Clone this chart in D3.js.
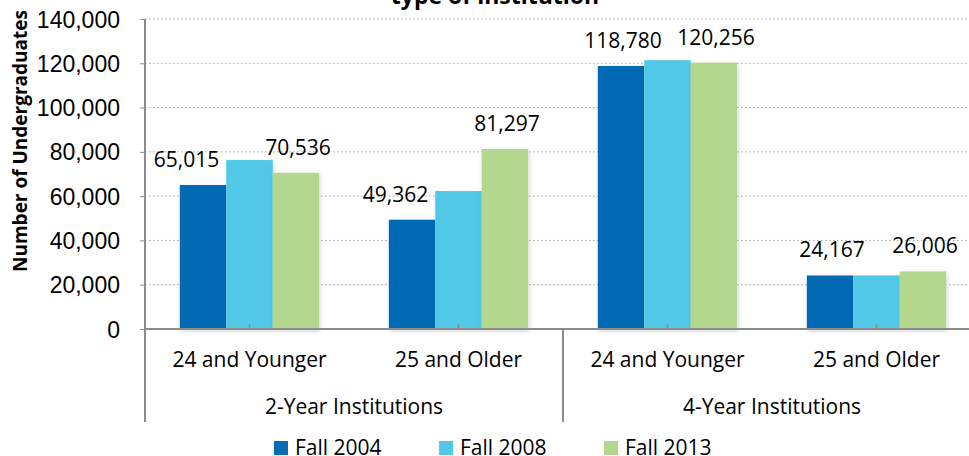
<!DOCTYPE html>
<html>
<head>
<meta charset="utf-8">
<script src="https://cdn.jsdelivr.net/npm/d3@7"></script>
<style>
  body { margin: 0; background: #fff; }
  svg { display: block; font-family: "Open Sans", sans-serif; }
</style>
</head>
<body>
<svg id="chart"></svg>
<script>
// categories: two levels on the x axis
const groups = ["2-Year Institutions", "4-Year Institutions"];
const ages = ["24 and Younger", "25 and Older"];
const series = ["Fall 2004", "Fall 2008", "Fall 2013"];
const colors = ["#056bb5", "#51c8e7", "#b3d78c"];

// values in category order: 2yr/24-, 2yr/25+, 4yr/24-, 4yr/25+
const fall2004 = [65015, 49362, 118780, 24167];
const fall2008 = [76300, 62300, 121400, 24200];  // not labelled
const fall2013 = [70536, 81297, 120256, 26006];
const labelled = ["Fall 2004", "Fall 2013"];

const yTicks = [0, 20000, 40000, 60000, 80000, 100000, 120000, 140000];

const width = 969, height = 456;
const marginLeft = 145, marginTop = 19, plotRight = 981, zeroY = 329;

const cats = groups.flatMap(g => ages.map(a => g + "|" + a));
const values = [fall2004, fall2008, fall2013];
const data = cats.flatMap((c, i) => series.map((s, j) => ({cat: c, series: s, value: values[j][i], k: j})));

const svg = d3.select("#chart")
    .attr("width", width)
    .attr("height", height)
    .attr("viewBox", [0, 0, width, height]);

const defs = svg.append("defs");
defs.append("filter").attr("id", "shadow")
    .attr("x", "-20%").attr("y", "-5%").attr("width", "140%").attr("height", "115%")
  .append("feDropShadow")
    .attr("dx", 1).attr("dy", 2).attr("stdDeviation", 2)
    .attr("flood-color", "#000").attr("flood-opacity", 0.18);

const x0 = d3.scaleBand(cats, [marginLeft, plotRight]);
const x1 = d3.scaleBand(series, [0, x0.bandwidth()]).paddingOuter(0.75);
const y = d3.scaleLinear([0, 140000], [zeroY, marginTop]);
const color = d3.scaleOrdinal(series, colors);
const fmt = d3.format(",");

// gridlines
svg.append("g")
   .selectAll("line")
   .data(yTicks.slice(1))
   .join("line")
   .attr("x1", marginLeft).attr("x2", width)
   .attr("y1", d => y(d)).attr("y2", d => y(d))
   .attr("stroke", "#a6a6a6")
   .attr("stroke-dasharray", "1.5,2.5");

// y axis
const yAxis = svg.append("g")
   .attr("transform", `translate(${marginLeft},0)`)
   .call(d3.axisLeft(y).tickValues(yTicks).tickFormat(fmt).tickSize(5).tickPadding(20));
yAxis.select(".domain").remove();
yAxis.selectAll(".tick line").attr("stroke", "#8c8c8c");
yAxis.selectAll("text").attr("font-size", 23).attr("fill", "#000").attr("dy", "0.35em");

// bars
svg.append("g")
   .selectAll("rect")
   .data(data)
   .join("rect")
   .attr("x", d => x0(d.cat) + x1(d.series))
   .attr("y", d => y(d.value))
   .attr("width", x1.bandwidth())
   .attr("height", d => y(0) - y(d.value))
   .attr("fill", d => color(d.series))
   .attr("filter", "url(#shadow)");

// axis lines
svg.append("line")
   .attr("x1", marginLeft).attr("x2", marginLeft)
   .attr("y1", marginTop).attr("y2", 422)
   .attr("stroke", "#8c8c8c").attr("stroke-width", 2);
svg.append("line")
   .attr("x1", marginLeft).attr("x2", width)
   .attr("y1", y(0)).attr("y2", y(0))
   .attr("stroke", "#8c8c8c").attr("stroke-width", 2);

// category ticks and labels
const catG = svg.append("g");
catG.selectAll("line")
    .data(cats)
    .join("line")
    .attr("x1", d => x0(d) + x0.bandwidth() / 2).attr("x2", d => x0(d) + x0.bandwidth() / 2)
    .attr("y1", y(0)).attr("y2", y(0) - 5)
    .attr("stroke", "#8c8c8c").attr("stroke-width", 1.5);
catG.selectAll("text")
    .data(cats)
    .join("text")
    .attr("x", d => x0(d) + x0.bandwidth() / 2)
    .attr("y", 367)
    .attr("text-anchor", "middle")
    .attr("font-size", 21)
    .text(d => d.split("|")[1]);

// group divider and labels
svg.append("line")
   .attr("x1", x0(groups[1] + "|" + ages[0])).attr("x2", x0(groups[1] + "|" + ages[0]))
   .attr("y1", y(0)).attr("y2", 422)
   .attr("stroke", "#8c8c8c").attr("stroke-width", 2);
svg.append("g")
   .selectAll("text")
   .data(groups)
   .join("text")
   .attr("x", g => x0(g + "|" + ages[0]) + x0.bandwidth())
   .attr("y", 414)
   .attr("text-anchor", "middle")
   .attr("font-size", 21)
   .text(g => g);

// data labels (shifted left when the next bar would cover them)
const lab = data.filter(d => labelled.includes(d.series));
svg.append("g")
   .selectAll("text")
   .data(lab)
   .join("text")
   .each(function(d) {
     const cx = x0(d.cat) + x1(d.series) + x1.bandwidth() / 2;
     const baseY = y(d.value) - 18;
     const next = data.find(e => e.cat === d.cat && e.k === d.k + 1);
     const t = d3.select(this).attr("y", baseY).attr("font-size", 21).text(fmt(d.value));
     if (next && y(next.value) < baseY + 4) {
       t.attr("x", x0(d.cat) + x1(next.series) - 7).attr("text-anchor", "end");
     } else {
       t.attr("x", cx + 2).attr("text-anchor", "middle");
     }
   });

// y title
svg.append("text")
   .attr("transform", `translate(27,141) rotate(-90)`)
   .attr("text-anchor", "middle")
   .attr("font-size", 19)
   .attr("font-weight", "bold")
   .text("Number of Undergraduates");

// title (second line, top cut off)
svg.append("text")
   .attr("x", 495).attr("y", 4)
   .attr("text-anchor", "middle")
   .attr("font-size", 23)
   .attr("font-weight", "bold")
   .text("type of institution");

// legend
const legend = svg.append("g")
   .selectAll("g")
   .data(series)
   .join("g")
   .attr("transform", (d, i) => `translate(${274 + i * 165},441)`);
legend.append("rect").attr("width", 14).attr("height", 14).attr("fill", d => color(d));
legend.append("text").attr("x", 21).attr("y", 14).attr("font-size", 21).text(d => d);
</script>
</body>
</html>
